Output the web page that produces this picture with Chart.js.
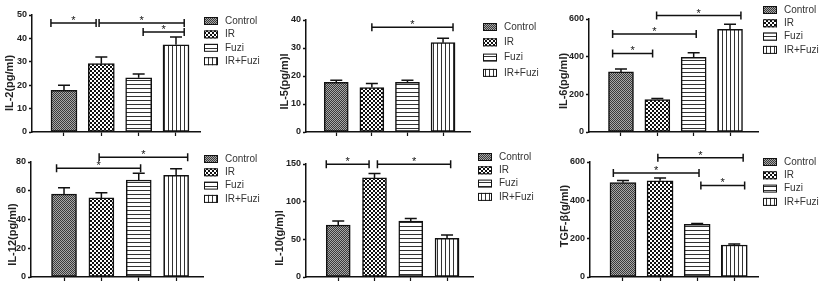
<!DOCTYPE html>
<html>
<head>
<meta charset="utf-8">
<script src="https://cdn.jsdelivr.net/npm/chart.js@4.4.1/dist/chart.umd.min.js"></script>
<style>
  html, body { margin: 0; padding: 0; background: #fff; }
  #wrap { position: relative; width: 820px; height: 285px; overflow: hidden; }
  .panel { position: absolute; }
</style>
</head>
<body>
<div id="wrap"></div>
<script>
// ---------------- data ----------------
const groups = ['Control', 'IR', 'Fuzi', 'IR+Fuzi'];

const il2Mean = [17.8, 29.2, 23.2, 37.3];
const il2Err = [2.2, 2.8, 1.6, 3.3];
const il2Ticks = [0, 10, 20, 30, 40, 50];
const il2Sig = [[-0.35, 0.86, 46.6], [0.94, 3.22, 46.6], [2.12, 3.22, 42.7]];

const il5Mean = [17.7, 15.9, 17.7, 31.9];
const il5Err = [0.8, 1.4, 0.8, 1.6];
const il5Ticks = [0, 10, 20, 30, 40];
const il5Sig = [[1.0, 3.28, 37.4]];

const il6Mean = [319, 172, 396, 545];
const il6Err = [15, 6, 25, 27];
const il6Ticks = [0, 200, 400, 600];
const il6Sig = [[0.98, 3.3, 618], [-0.23, 2.07, 520], [-0.23, 0.87, 417]];

const il12Mean = [57.7, 55.0, 67.5, 70.7];
const il12Err = [4.4, 3.6, 4.6, 4.6];
const il12Ticks = [0, 20, 40, 60, 80];
const il12Sig = [[-0.2, 2.05, 75.6], [0.94, 3.31, 83.3]];

const il10Mean = [68.8, 131.5, 74.1, 51.2];
const il10Err = [5.7, 5.8, 3.6, 4.4];
const il10Ticks = [0, 50, 100, 150];
const il10Sig = [[-0.33, 0.85, 149.6], [1.08, 3.1, 149.6]];

const tgfMean = [492, 502, 275, 167];
const tgfErr = [12, 15, 4, 5];
const tgfTicks = [0, 200, 400, 600];
const tgfSig = [[0.94, 3.24, 622], [-0.26, 2.05, 543], [2.1, 3.28, 478]];

// ---------------- panel layout ----------------
const panels = [
  { title: 'IL-2(pg/ml)', mean: il2Mean, err: il2Err, ticks: il2Ticks, sig: il2Sig,
    left: 0, top: 0, width: 273, height: 142, axisW: 32, padTop: 15, padRight: 73, axisH: 10,
    xMin: -0.857, xMax: 3.643, barW: 26, titleX: 10, titleY: 83, legX: 204, legY: 21, legGap: 13.4 },
  { title: 'IL-5(pg/m)l', mean: il5Mean, err: il5Err, ticks: il5Ticks, sig: il5Sig,
    left: 273, top: 0, width: 273, height: 142, axisW: 33, padTop: 20, padRight: 76, axisH: 10,
    xMin: -0.85, xMax: 3.757, barW: 24, titleX: 12, titleY: 81.5, legX: 210, legY: 27, legGap: 15.3 },
  { title: 'IL-6(pg/ml)', mean: il6Mean, err: il6Err, ticks: il6Ticks, sig: il6Sig,
    left: 546, top: 0, width: 274, height: 142, axisW: 43, padTop: 19, padRight: 62, axisH: 10,
    xMin: -0.88, xMax: 3.77, barW: 25, titleX: 18, titleY: 81, legX: 217, legY: 10, legGap: 13.3 },
  { title: 'IL-12(pg/ml)', mean: il12Mean, err: il12Err, ticks: il12Ticks, sig: il12Sig,
    left: 0, top: 142, width: 273, height: 143, axisW: 31, padTop: 20, padRight: 70, axisH: 8,
    xMin: -0.884, xMax: 3.72, barW: 25, titleX: 13, titleY: 92.5, legX: 204, legY: 17, legGap: 13.3 },
  { title: 'IL-10(g/m)l', mean: il10Mean, err: il10Err, ticks: il10Ticks, sig: il10Sig,
    left: 273, top: 142, width: 273, height: 143, axisW: 33, padTop: 22, padRight: 73, axisH: 8,
    xMin: -0.889, xMax: 3.716, barW: 24, titleX: 7, titleY: 96, legX: 205, legY: 15, legGap: 13.3 },
  { title: 'TGF-β(g/ml)', mean: tgfMean, err: tgfErr, ticks: tgfTicks, sig: tgfSig,
    left: 546, top: 142, width: 274, height: 143, axisW: 44, padTop: 20, padRight: 62, axisH: 8,
    xMin: -0.889, xMax: 3.64, barW: 26, titleX: 19, titleY: 74, legX: 217, legY: 20, legGap: 13.3 }
];

const FONT = "'Liberation Sans', Arial, sans-serif";
const INK = '#111';

// ---------------- fill patterns ----------------
function tile(size, draw) {
    const c = document.createElement('canvas');
    c.width = size; c.height = size;
    draw(c.getContext('2d'));
    return c;
}

const tiles = [
    tile(2, g => { g.fillStyle = '#a8a8a8'; g.fillRect(0, 0, 2, 2); g.fillStyle = '#3a3a3a'; g.fillRect(0, 0, 1, 1); g.fillRect(1, 1, 1, 1); }),
    tile(4, g => { g.fillStyle = '#fff'; g.fillRect(0, 0, 4, 4); g.fillStyle = '#111'; g.fillRect(0, 0, 2, 2); g.fillRect(2, 2, 2, 2); }),
    tile(4, g => { g.fillStyle = '#fff'; g.fillRect(0, 0, 4, 4); g.fillStyle = '#333'; g.fillRect(0, 0, 4, 1); }),
    tile(4, g => { g.fillStyle = '#fff'; g.fillRect(0, 0, 4, 4); g.fillStyle = '#333'; g.fillRect(0, 0, 1, 4); })
];

// ---------------- error bars, brackets, legend, title ----------------
function decor(p, fills) {
    return {
        id: 'decor',
        afterDatasetsDraw(chart) {
            const { ctx, scales: { x, y } } = chart;
            ctx.save();
            ctx.strokeStyle = INK;
            ctx.lineWidth = 1.5;

            // error bars (upper only)
            p.mean.forEach((v, i) => {
                const cx = x.getPixelForValue(i);
                const top = y.getPixelForValue(v);
                const tip = y.getPixelForValue(v + p.err[i]);
                ctx.beginPath();
                ctx.moveTo(cx, top);
                ctx.lineTo(cx, tip);
                ctx.moveTo(cx - 6, tip);
                ctx.lineTo(cx + 6, tip);
                ctx.stroke();
            });

            // significance brackets
            ctx.fillStyle = INK;
            ctx.font = '11px ' + FONT;
            ctx.textAlign = 'center';
            ctx.textBaseline = 'alphabetic';
            p.sig.forEach(([a, b, v]) => {
                const x1 = x.getPixelForValue(a);
                const x2 = x.getPixelForValue(b);
                const yy = y.getPixelForValue(v);
                ctx.beginPath();
                ctx.moveTo(x1, yy); ctx.lineTo(x2, yy);
                ctx.moveTo(x1, yy - 4); ctx.lineTo(x1, yy + 4);
                ctx.moveTo(x2, yy - 4); ctx.lineTo(x2, yy + 4);
                ctx.stroke();
                ctx.fillText('*', (x1 + x2) / 2, yy + 1);
            });
            ctx.restore();
        },
        afterDraw(chart) {
            const ctx = chart.ctx;
            ctx.save();

            // legend
            ctx.font = '10px ' + FONT;
            ctx.textAlign = 'left';
            ctx.textBaseline = 'middle';
            groups.forEach((name, i) => {
                const cy = p.legY + i * p.legGap;
                ctx.fillStyle = fills[i];
                ctx.fillRect(p.legX, cy - 4, 14, 8);
                ctx.strokeStyle = INK;
                ctx.lineWidth = 1;
                ctx.strokeRect(p.legX + 0.5, cy - 3.5, 13, 7);
                ctx.fillStyle = '#333';
                ctx.fillText(name, p.legX + 21, cy);
            });

            // y axis title
            ctx.translate(p.titleX, p.titleY);
            ctx.rotate(-Math.PI / 2);
            ctx.font = 'bold 11px ' + FONT;
            ctx.textAlign = 'center';
            ctx.fillStyle = '#222';
            ctx.fillText(p.title, 0, 0);
            ctx.restore();
        }
    };
}

// ---------------- build charts ----------------
const wrap = document.getElementById('wrap');

panels.forEach(p => {
    const cv = document.createElement('canvas');
    cv.width = p.width;
    cv.height = p.height;
    cv.className = 'panel';
    cv.style.left = p.left + 'px';
    cv.style.top = p.top + 'px';
    wrap.appendChild(cv);

    const ctx = cv.getContext('2d');
    const fills = tiles.map(t => ctx.createPattern(t, 'repeat'));

    new Chart(cv, {
        type: 'bar',
        data: {
            datasets: [{
                data: p.mean.map((v, i) => ({ x: i, y: v })),
                backgroundColor: fills,
                borderColor: INK,
                borderWidth: 1.5,
                borderSkipped: false,
                barThickness: p.barW
            }]
        },
        options: {
            responsive: false,
            animation: false,
            devicePixelRatio: 1,
            layout: { padding: { left: 0, top: p.padTop, right: p.padRight, bottom: 0 } },
            plugins: { legend: { display: false }, tooltip: { enabled: false } },
            scales: {
                x: {
                    type: 'linear',
                    min: p.xMin,
                    max: p.xMax,
                    offset: false,
                    afterBuildTicks: s => { s.ticks = groups.map((g, i) => ({ value: i })); },
                    afterFit: s => { s.height = p.axisH; },
                    ticks: { display: false },
                    grid: { offset: false, drawOnChartArea: false, drawTicks: true, tickLength: 4, tickColor: INK, tickWidth: 1.2 },
                    border: { color: INK, width: 1.5 }
                },
                y: {
                    min: 0,
                    max: p.ticks[p.ticks.length - 1],
                    afterBuildTicks: s => { s.ticks = p.ticks.map(v => ({ value: v })); },
                    afterFit: s => { s.width = p.axisW; },
                    ticks: { color: '#222', padding: 2, font: { family: FONT, size: 9, weight: 'bold' } },
                    grid: { drawOnChartArea: false, drawTicks: true, tickLength: 3, tickColor: INK, tickWidth: 1.5 },
                    border: { color: INK, width: 1.5 }
                }
            }
        },
        plugins: [decor(p, fills)]
    });
});
</script>
</body>
</html>
